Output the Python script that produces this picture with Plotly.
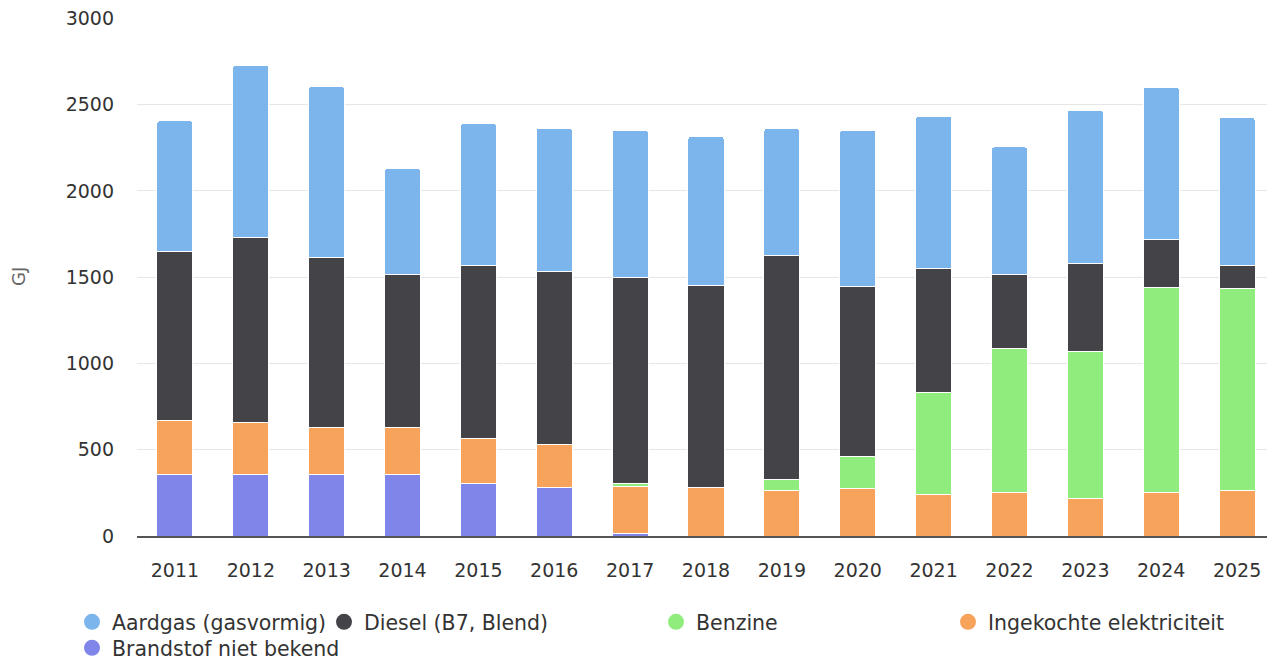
'''
    Stacked bar chart: energy use per fuel type (GJ), 2011-2025.
'''
import plotly.graph_objects as go

FONT = "Verdana, DejaVu Sans, sans-serif"

years = [str(y) for y in range(2011, 2026)]

# values per series (GJ)
brandstof = [359, 359, 359, 359, 305, 280, 15, 0, 0, 0, 0, 0, 0, 0, 0]
elektriciteit = [313, 297, 268, 268, 261, 251, 270, 282, 261, 276, 241, 251, 216, 253, 261]
benzine = [0, 0, 0, 0, 0, 0, 20, 0, 67, 187, 589, 836, 851, 1189, 1173]
diesel = [979, 1076, 989, 890, 1003, 1004, 1193, 1172, 1295, 983, 722, 430, 512, 278, 135]
aardgas = [756, 996, 988, 614, 821, 828, 853, 863, 738, 905, 880, 738, 888, 882, 856]

y_ticks = [0, 500, 1000, 1500, 2000, 2500, 3000]

# bottom-up stacking order: (name, values, colour, legend slot)
series = [
    ("Brandstof niet bekend", brandstof, "#8085e9", "legend5"),
    ("Ingekochte elektriciteit", elektriciteit, "#f7a35c", "legend4"),
    ("Benzine", benzine, "#90ed7d", "legend3"),
    ("Diesel (B7, Blend)", diesel, "#434348", "legend2"),
    ("Aardgas (gasvormig)", aardgas, "#7cb5ec", "legend"),
]

# legend slot positions in screen pixels (symbol centre x, row centre y)
legend_pos = {
    "legend": (93, 622),
    "legend2": (345, 622),
    "legend3": (677, 622),
    "legend4": (969, 622),
    "legend5": (93, 648),
}

# the page body adds an 8px margin, so the figure is 8px smaller each way
OFF = 8
W, H = 1275 - OFF, 662 - OFF
L, T, B = 137 - OFF, 18 - OFF, 126

fig = go.Figure()

for name, vals, color, leg in series:
    fig.add_trace(go.Bar(
        x=years, y=vals, name=name,
        marker=dict(color=color, line=dict(color="white", width=1)),
        showlegend=False,
    ))
    # circle symbol for the legend, parked outside a hidden axis range
    fig.add_trace(go.Scatter(
        x=[0], y=[-10], mode="markers", name=name,
        marker=dict(color=color, size=16, symbol="circle"),
        xaxis="x2", yaxis="y2",
        legend=leg, showlegend=True, hoverinfo="skip",
    ))

legends = {}
for leg, (cx, cy) in legend_pos.items():
    legends[leg] = dict(
        orientation="h",
        xref="container", yref="container",
        x=(cx - OFF - 21) / W, y=1 - (cy - OFF) / H,
        xanchor="left", yanchor="middle",
        bgcolor="rgba(0,0,0,0)",
        font=dict(family=FONT, size=20.5, color="#333333"),
        itemclick=False, itemdoubleclick=False,
    )

fig.update_layout(
    barmode="stack",
    bargap=0.525,
    barcornerradius=3,
    width=W, height=H,
    plot_bgcolor="white",
    paper_bgcolor="white",
    font=dict(family=FONT, color="#333333"),
    margin=dict(l=L, r=0, t=T, b=B, autoexpand=False),
    xaxis=dict(
        type="category",
        showline=True, linecolor="#555555", linewidth=1.5,
        showgrid=False,
        ticks="",
        ticklabelstandoff=16,
        tickfont=dict(family=FONT, size=19, color="#333333"),
        automargin=False,
    ),
    yaxis=dict(
        range=[0, 3002],
        tickvals=y_ticks,
        showgrid=True, gridcolor="#e6e6e6", gridwidth=1,
        zeroline=False,
        showline=False,
        ticks="",
        ticklabelstandoff=22,
        ticklabeloverflow="allow",
        tickfont=dict(family=FONT, size=19, color="#333333"),
        automargin=False,
    ),
    xaxis2=dict(visible=False, range=[-1, 1], overlaying="x"),
    yaxis2=dict(visible=False, range=[0, 1], overlaying="y"),
    annotations=[
        dict(
            text="GJ", textangle=-90,
            xref="paper", yref="paper",
            x=(18 - OFF - L) / (W - L), y=0.5,
            xanchor="center", yanchor="middle",
            showarrow=False,
            font=dict(family=FONT, size=18, color="#666666"),
        )
    ],
    **legends,
)

fig.write_html("out.html")
